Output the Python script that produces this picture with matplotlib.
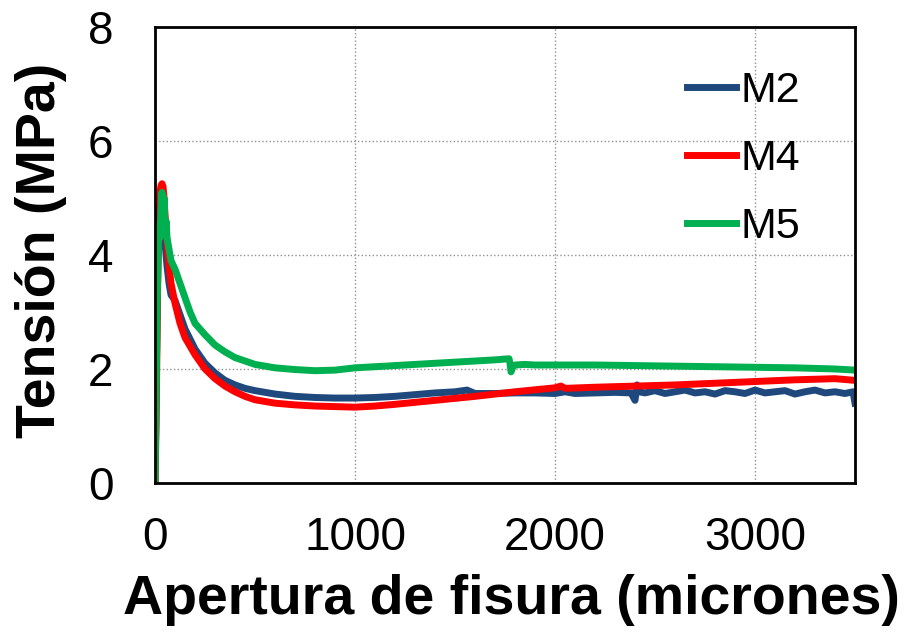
import numpy as np
import matplotlib.pyplot as plt

plt.rcParams['font.family'] = ['Liberation Sans', 'DejaVu Sans']

# M2
x_m2 = [0, 5, 10, 15, 20, 25, 30, 35, 40, 45, 50, 60, 70, 80, 100, 150, 200, 250, 300,
        350, 400, 450, 500, 600, 700, 800, 900, 1000, 1100, 1200, 1300, 1400, 1500, 1560,
        1580, 1600, 1700, 1800, 1900, 2000, 2050, 2100, 2200, 2300, 2380, 2400, 2410, 2420,
        2450, 2500, 2550, 2600, 2650, 2700, 2750, 2800, 2850, 2900, 2950, 3000, 3050, 3100,
        3150, 3200, 3250, 3300, 3350, 3400, 3450, 3490, 3500]
y_m2 = [0, 1.5, 3.0, 4.0, 4.5, 4.7, 4.9, 4.95, 4.8, 4.5, 4.2, 3.8, 3.5, 3.3, 3.2, 2.7,
        2.35, 2.1, 1.93, 1.8, 1.72, 1.66, 1.62, 1.56, 1.52, 1.50, 1.49, 1.49, 1.50, 1.52,
        1.55, 1.58, 1.60, 1.63, 1.60, 1.57, 1.57, 1.58, 1.58, 1.57, 1.60, 1.57, 1.58, 1.59,
        1.58, 1.45, 1.72, 1.60, 1.58, 1.62, 1.57, 1.60, 1.63, 1.58, 1.60, 1.56, 1.62, 1.60,
        1.57, 1.63, 1.58, 1.60, 1.62, 1.56, 1.60, 1.63, 1.58, 1.60, 1.57, 1.60, 1.40]

# M4
x_m4 = [0, 5, 10, 15, 20, 25, 30, 35, 40, 45, 50, 60, 70, 80, 100, 125, 150, 200, 250,
        300, 350, 400, 450, 500, 600, 700, 800, 900, 1000, 1100, 1200, 1400, 1600, 1800,
        2000, 2030, 2050, 2200, 2400, 2600, 2800, 3000, 3200, 3400, 3500]
y_m4 = [0, 1.0, 2.5, 4.0, 4.8, 5.1, 5.22, 5.25, 5.2, 5.0, 4.7, 4.2, 3.8, 3.5, 3.15,
        2.8, 2.55, 2.25, 2.0, 1.83, 1.7, 1.6, 1.52, 1.46, 1.40, 1.37, 1.35, 1.34, 1.33,
        1.35, 1.38, 1.45, 1.52, 1.60, 1.67, 1.70, 1.66, 1.68, 1.70, 1.72, 1.75, 1.78,
        1.81, 1.83, 1.80]

# M5
x_m5 = [0, 5, 10, 15, 20, 25, 30, 35, 40, 45, 50, 55, 60, 70, 80, 100, 125, 150, 175,
        200, 250, 300, 350, 400, 500, 600, 700, 800, 900, 1000, 1200, 1400, 1600, 1700,
        1770, 1775, 1780, 1790, 1800, 1850, 1900, 2000, 2200, 2400, 2600, 2800, 3000,
        3200, 3400, 3500]
y_m5 = [0, 1.5, 3.0, 4.0, 4.5, 4.3, 4.8, 5.1, 4.5, 5.0, 4.4, 4.6, 4.3, 4.1, 3.9, 3.75,
        3.5, 3.25, 3.0, 2.8, 2.6, 2.42, 2.3, 2.2, 2.08, 2.02, 1.99, 1.97, 1.98, 2.02,
        2.06, 2.10, 2.14, 2.16, 2.18, 2.10, 1.95, 2.05, 2.07, 2.08, 2.07, 2.07, 2.07,
        2.06, 2.05, 2.04, 2.03, 2.02, 2.00, 1.98]

fig = plt.figure(figsize=(9.12, 6.35), dpi=100)
ax = fig.add_axes([0.170, 0.2394, 0.7675, 0.7181])

ax.plot(x_m2, y_m2, color='#1f497d', lw=5, label='M2', solid_joinstyle='round')
ax.plot(x_m4, y_m4, color='#ff0000', lw=5, label='M4', solid_joinstyle='round')
ax.plot(x_m5, y_m5, color='#00b050', lw=5, label='M5', solid_joinstyle='round')

ax.set_xlim(0, 3500)
ax.set_ylim(0, 8)
ax.set_xticks([0, 1000, 2000, 3000])
ax.set_yticks([0, 2, 4, 6, 8])
ax.grid(True, color='#909090', linestyle=':', linewidth=1)
ax.tick_params(labelsize=33, length=0)
ax.tick_params(axis='x', pad=24)
ax.tick_params(axis='y', pad=30)
for s in ax.spines.values():
    s.set_linewidth(2)

ax.set_xlabel('Apertura de fisura (micrones)', fontsize=40, fontweight='bold')
ax.set_ylabel('Tensión (MPa)', fontsize=40, fontweight='bold')
ax.xaxis.set_label_coords(0.509, -0.200)
ax.yaxis.set_label_coords(-0.126, 0.51)

ax.legend(loc='upper left', bbox_to_anchor=(0.753, 0.888), bbox_transform=fig.transFigure,
          frameon=False, fontsize=31, handlelength=1.14, handletextpad=0.12,
          labelspacing=0.65, borderaxespad=0, borderpad=0)

plt.savefig('out.png', dpi=100)
plt.close()
